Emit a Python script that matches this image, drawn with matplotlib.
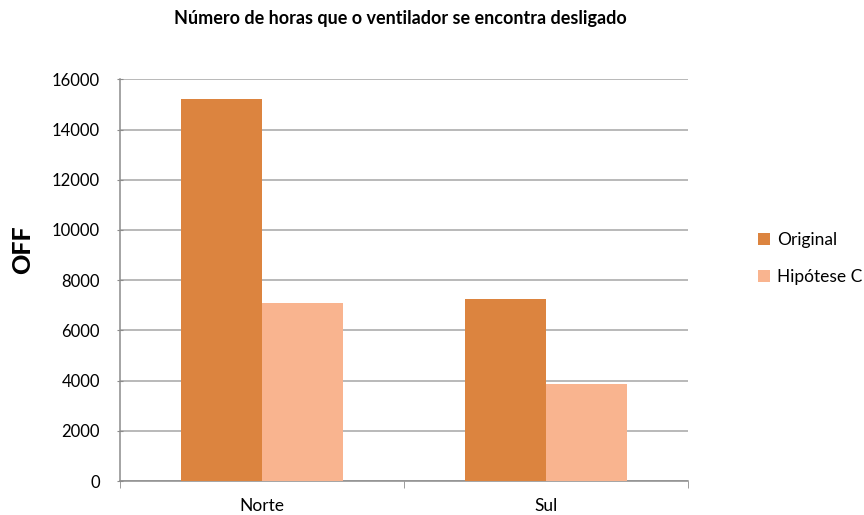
import matplotlib
matplotlib.use("Agg")
import matplotlib.pyplot as plt
import numpy as np

regions = ["Norte", "Sul"]
original = [15200, 7240]
hipotese_c = [7080, 3860]
series_names = ["Original", "Hipótese C"]
yticks = [0, 2000, 4000, 6000, 8000, 10000, 12000, 14000, 16000]

plt.rcParams["font.family"] = ["Lato", "DejaVu Sans"]

fig = plt.figure(figsize=(8.64, 5.15), dpi=100)
ax = fig.add_axes([0.1389, 0.066, 0.657, 0.780])

x = np.arange(len(regions))
w = 0.285
ax.bar(x - w / 2, original, w, color="#DC843F", label=series_names[0], zorder=3)
ax.bar(x + w / 2, hipotese_c, w, color="#F9B48F", label=series_names[1], zorder=3)

ax.set_xlim(-0.5, len(regions) - 0.5)
ax.set_ylim(0, 16000)
ax.set_yticks(yticks)
ax.set_yticklabels([str(v) for v in yticks], fontsize=12)
ax.yaxis.grid(True, color="#A6A6A6", linewidth=1.1, zorder=0)

# category labels at centres, tick marks at the boundaries
ax.set_xticks(x)
ax.set_xticklabels(regions, fontsize=12.5)
ax.tick_params(axis="x", length=0, pad=12)
ax.set_xticks(np.arange(-0.5, len(regions)), minor=True)
ax.tick_params(axis="x", which="minor", length=5, color="#8C8C8C", direction="out")
ax.tick_params(axis="y", length=5, color="#8C8C8C", direction="inout", pad=12)

for side in ["top", "right"]:
    ax.spines[side].set_visible(False)
for side in ["left", "bottom"]:
    ax.spines[side].set_color("#8C8C8C")
    ax.spines[side].set_linewidth(1.1)

fig.text(0.026, 1 - 250 / 515, "OFF", rotation=90, ha="center", va="center",
         fontsize=18, fontweight="black")
fig.text(0.463, 0.965, "Número de horas que o ventilador se encontra desligado",
         ha="center", va="center", fontsize=13, fontweight="bold")

ax.legend(loc="center left", bbox_to_anchor=(1.097, 0.553), frameon=False,
          fontsize=12.5, handlelength=0.7, handleheight=0.7,
          labelspacing=1.2, handletextpad=0.4)

fig.savefig("out.png", dpi=100)
